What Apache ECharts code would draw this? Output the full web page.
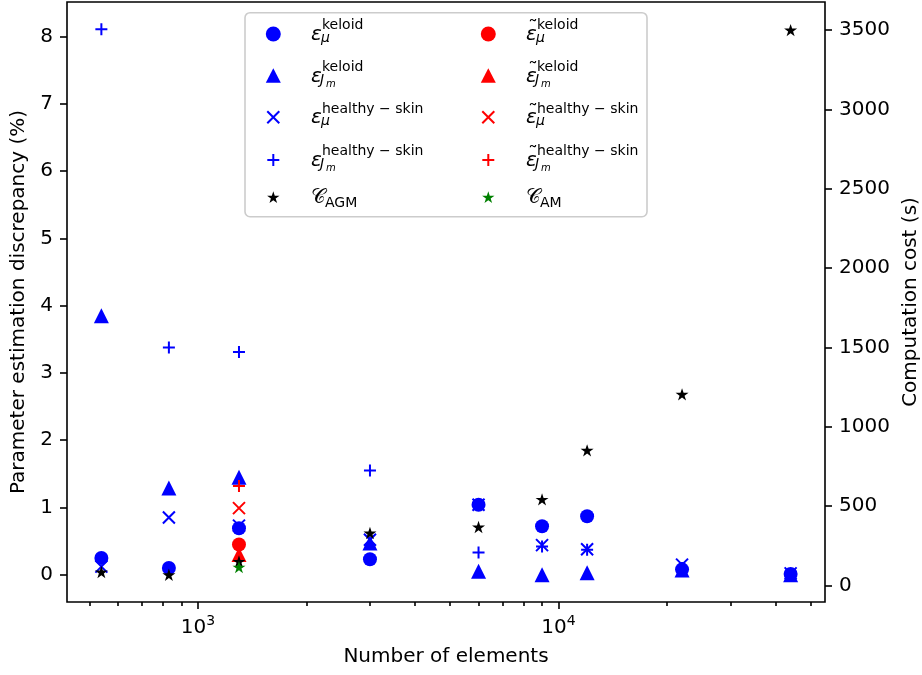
<!DOCTYPE html>
<html>
<head>
<meta charset="utf-8">
<script src="https://cdn.jsdelivr.net/npm/echarts@6/dist/echarts.min.js"></script>
<style>
  html, body { margin: 0; padding: 0; background: #ffffff; }
  #chart { width: 922px; height: 675px; }
</style>
</head>
<body>
<div id="chart"></div>
<script>
// Mesh sizes (number of elements) of the studied discretisations
const elements = [540, 831, 1300, 3000, 6000, 9000, 12000, 22000, 44000];

// Parameter estimation discrepancy (%) – keloid and healthy skin
const epsMuKeloid   = [0.25, 0.10, 0.69, 0.23, 1.04, 0.72, 0.87, 0.08, 0.01];
const epsJmKeloid   = [3.85, 1.29, 1.45, 0.47, 0.05, 0.00, 0.03, 0.07, 0.00];
const epsMuHealthy  = [0.12, 0.85, 0.73, 0.52, 1.04, 0.44, 0.38, 0.15, 0.02];
const epsJmHealthy  = [8.11, 3.38, 3.31, 1.55, 0.33, 0.42, 0.37, 0.10, 0.01];

// Computation cost (s) of the AGM runs
const costAGM = [84, 67, 151, 330, 368, 542, 851, 1204, 3500];

// Single AM reference mesh
const elementsAM = [1300];
const epsTildeMuKeloid  = [0.45];
const epsTildeJmKeloid  = [0.30];
const epsTildeMuHealthy = [0.99];
const epsTildeJmHealthy = [1.32];
const costAM = [115];

// Tick values
const leftTicks   = [0, 1, 2, 3, 4, 5, 6, 7, 8];
const rightTicks  = [0, 500, 1000, 1500, 2000, 2500, 3000, 3500];
const xMajorTicks = [1000, 10000];
const xMinorTicks = [500, 600, 700, 800, 900, 2000, 3000, 4000, 5000, 6000, 7000, 8000, 9000, 20000, 30000, 40000, 50000];

const FONT = '"DejaVu Sans", "Liberation Sans", sans-serif';
const BLUE = '#0000ff', RED = '#ff0000', BLACK = '#000000', GREEN = '#008000';

const CROSS = 'path://M0,0L10,10M10,0L0,10';
const PLUS  = 'path://M5,0L5,10M0,5L10,5';
const STAR  = 'path://M100,0L77.55,69.1L4.9,69.1L63.7,111.8L41.2,180.9L100,138.2L158.8,180.9L136.3,111.8L195.1,69.1L122.45,69.1Z';

function pairs(xs, ys) { return xs.map((x, i) => [x, ys[i]]); }

function filled(name, xs, ys, symbol, size, color, yAxisIndex, z) {
  return {
    name, type: 'scatter', xAxisIndex: 0, yAxisIndex, z,
    symbol, symbolSize: size, symbolKeepAspect: true,
    itemStyle: { color, opacity: 1 },
    emphasis: { disabled: true },
    data: pairs(xs, ys)
  };
}
function stroked(name, xs, ys, symbol, size, color, z) {
  return {
    name, type: 'scatter', xAxisIndex: 0, yAxisIndex: 0, z,
    symbol, symbolSize: size,
    itemStyle: { color: 'rgba(0,0,0,0)', borderColor: color, borderWidth: 2, opacity: 1 },
    emphasis: { disabled: true },
    data: pairs(xs, ys)
  };
}

// ---------- legend drawn as graphics (math-style labels) ----------
const rowY = [34, 75.7, 117.3, 160, 197.3];
const colMarkerX = [273.3, 488.3];
const colTextX = [311, 526];
const MID = 0.346; // canvas "middle" offset above the baseline, in em

function txt(x, baseline, text, size, italic) {
  return {
    type: 'text', z: 101, x: x, y: baseline - MID * size,
    style: {
      text, fill: '#000',
      font: (italic ? 'italic ' : '') + size + 'px ' + FONT,
      align: 'left', verticalAlign: 'middle'
    }
  };
}
function starPoints(cx, cy, R) {
  const pts = [];
  for (let k = 0; k < 10; k++) {
    const r = k % 2 === 0 ? R : R * 0.382;
    const a = -Math.PI / 2 + k * Math.PI / 5;
    pts.push([cx + r * Math.cos(a), cy + r * Math.sin(a)]);
  }
  return pts;
}
function legendMarker(kind, cx, cy, color) {
  const ls = { stroke: color, lineWidth: 2 };
  switch (kind) {
    case 'circle':
      return [{ type: 'circle', z: 101, shape: { cx, cy, r: 7.5 }, style: { fill: color } }];
    case 'triangle':
      return [{ type: 'polygon', z: 101, shape: { points: [[cx, cy - 7.5], [cx - 7.5, cy + 7], [cx + 7.5, cy + 7]] }, style: { fill: color } }];
    case 'cross':
      return [
        { type: 'line', z: 101, shape: { x1: cx - 6, y1: cy - 6, x2: cx + 6, y2: cy + 6 }, style: ls },
        { type: 'line', z: 101, shape: { x1: cx - 6, y1: cy + 6, x2: cx + 6, y2: cy - 6 }, style: ls }
      ];
    case 'plus':
      return [
        { type: 'line', z: 101, shape: { x1: cx - 6, y1: cy, x2: cx + 6, y2: cy }, style: ls },
        { type: 'line', z: 101, shape: { x1: cx, y1: cy - 6, x2: cx, y2: cy + 6 }, style: ls }
      ];
    default:
      return [{ type: 'polygon', z: 101, shape: { points: starPoints(cx, cy + 0.5, 6.5) }, style: { fill: color } }];
  }
}
function legendLabel(col, row, entry) {
  const x0 = colTextX[col], y = rowY[row];
  const out = [];
  if (entry.calC) {
    out.push(txt(x0, y + 7.5, '\uD835\uDC9E', 20, false));
    out.push(txt(x0 + 14, y + 11, entry.sub, 14, false));
    return out;
  }
  out.push(txt(x0, y + 7.7, '\u03B5', 20, true));
  if (entry.tilde) out.push(txt(x0 + 2, y + 2, '\u02DC', 20, false));
  out.push(txt(x0 + 11, y - 3.3, entry.sup, 14, false));
  if (entry.sub === 'Jm') {
    out.push(txt(x0 + 9, y + 9.5, 'J', 14, true));
    out.push(txt(x0 + 15, y + 12, 'm', 10, true));
  } else {
    out.push(txt(x0 + 10, y + 9, '\u03BC', 14, true));
  }
  return out;
}

const legendEntries = [
  { col: 0, row: 0, marker: 'circle',   color: BLUE,  sup: 'keloid', sub: 'mu' },
  { col: 0, row: 1, marker: 'triangle', color: BLUE,  sup: 'keloid', sub: 'Jm' },
  { col: 0, row: 2, marker: 'cross',    color: BLUE,  sup: 'healthy \u2212 skin', sub: 'mu' },
  { col: 0, row: 3, marker: 'plus',     color: BLUE,  sup: 'healthy \u2212 skin', sub: 'Jm' },
  { col: 0, row: 4, marker: 'star',     color: BLACK, calC: true, sub: 'AGM' },
  { col: 1, row: 0, marker: 'circle',   color: RED,   tilde: true, sup: 'keloid', sub: 'mu' },
  { col: 1, row: 1, marker: 'triangle', color: RED,   tilde: true, sup: 'keloid', sub: 'Jm' },
  { col: 1, row: 2, marker: 'cross',    color: RED,   tilde: true, sup: 'healthy \u2212 skin', sub: 'mu' },
  { col: 1, row: 3, marker: 'plus',     color: RED,   tilde: true, sup: 'healthy \u2212 skin', sub: 'Jm' },
  { col: 1, row: 4, marker: 'star',     color: GREEN, calC: true, sub: 'AM' }
];

const legendGraphics = [{
  type: 'rect', z: 100,
  shape: { x: 245, y: 12.7, width: 402, height: 204, r: 5 },
  style: { fill: 'rgba(255,255,255,0.8)', stroke: '#cccccc', lineWidth: 1.6 }
}];
legendEntries.forEach(e => {
  legendGraphics.push(...legendMarker(e.marker, colMarkerX[e.col], rowY[e.row], e.color));
  legendGraphics.push(...legendLabel(e.col, e.row, e));
});

// ---------- chart ----------
const chart = echarts.init(document.getElementById('chart'), null, { renderer: 'canvas' });

const tickLine = { color: '#000', width: 1.6 };
const labelStyle = { color: '#000', fontSize: 20, fontFamily: FONT };

chart.setOption({
  animation: false,
  backgroundColor: '#ffffff',
  grid: {
    left: 67, right: 97, top: 2, bottom: 73,
    outerBoundsMode: 'none', containLabel: false,
    show: true, borderColor: '#000', borderWidth: 1.6, backgroundColor: 'rgba(0,0,0,0)'
  },
  xAxis: [
    {
      type: 'log', logBase: 10, min: 433.6, max: 54800, position: 'bottom',
      axisLine: { show: false, onZero: false },
      axisTick: { show: true, customValues: xMajorTicks, length: 7, lineStyle: tickLine },
      minorTick: { show: false },
      splitLine: { show: false },
      axisLabel: {
        customValues: xMajorTicks, margin: 12,
        formatter: v => '{b|10}{s|' + Math.round(Math.log10(v)) + '}',
        rich: {
          b: { fontSize: 20, lineHeight: 24, fontFamily: FONT, color: '#000', verticalAlign: 'bottom' },
          s: { fontSize: 14, lineHeight: 20, fontFamily: FONT, color: '#000', verticalAlign: 'top' }
        }
      },
      name: 'Number of elements', nameLocation: 'middle', nameGap: 45,
      nameTextStyle: labelStyle
    },
    {
      type: 'log', logBase: 10, min: 433.6, max: 54800, position: 'bottom',
      axisLine: { show: false, onZero: false },
      axisTick: { show: true, customValues: xMinorTicks, length: 4, lineStyle: tickLine },
      minorTick: { show: false },
      splitLine: { show: false },
      axisLabel: { show: false }
    }
  ],
  yAxis: [
    {
      type: 'value', min: -0.4055, max: 8.5155, position: 'left',
      axisLine: { show: false, onZero: false },
      axisTick: { show: true, customValues: leftTicks, length: 7, lineStyle: tickLine },
      axisLabel: Object.assign({ customValues: leftTicks, margin: 14, formatter: v => String(v) }, labelStyle),
      splitLine: { show: false },
      name: 'Parameter estimation discrepancy (%)', nameLocation: 'middle', nameRotate: 90, nameGap: 38,
      nameTextStyle: labelStyle
    },
    {
      type: 'value', min: -105, max: 3677, position: 'right',
      axisLine: { show: false, onZero: false },
      axisTick: { show: true, customValues: rightTicks, length: 7, lineStyle: tickLine },
      axisLabel: Object.assign({ customValues: rightTicks, margin: 14, formatter: v => String(v) }, labelStyle),
      splitLine: { show: false },
      name: 'Computation cost (s)', nameLocation: 'middle', nameRotate: 90, nameGap: 74,
      nameTextStyle: labelStyle
    }
  ],
  series: [
    stroked('epsMuHealthy', elements, epsMuHealthy, CROSS, 12, BLUE, 2),
    stroked('epsJmHealthy', elements, epsJmHealthy, PLUS, 12, BLUE, 2),
    filled('epsMuKeloid', elements, epsMuKeloid, 'circle', 14, BLUE, 0, 2),
    filled('epsJmKeloid', elements, epsJmKeloid, 'triangle', 15, BLUE, 0, 2),
    filled('epsTildeMuKeloid', elementsAM, epsTildeMuKeloid, 'circle', 14, RED, 0, 3),
    filled('epsTildeJmKeloid', elementsAM, epsTildeJmKeloid, 'triangle', 15, RED, 0, 3),
    stroked('epsTildeMuHealthy', elementsAM, epsTildeMuHealthy, CROSS, 12, RED, 3),
    stroked('epsTildeJmHealthy', elementsAM, epsTildeJmHealthy, PLUS, 12, RED, 3),
    filled('costAGM', elements, costAGM, STAR, 13, BLACK, 1, 4),
    filled('costAM', elementsAM, costAM, STAR, 13, GREEN, 1, 5)
  ],
  graphic: { elements: legendGraphics }
});
</script>
</body>
</html>
